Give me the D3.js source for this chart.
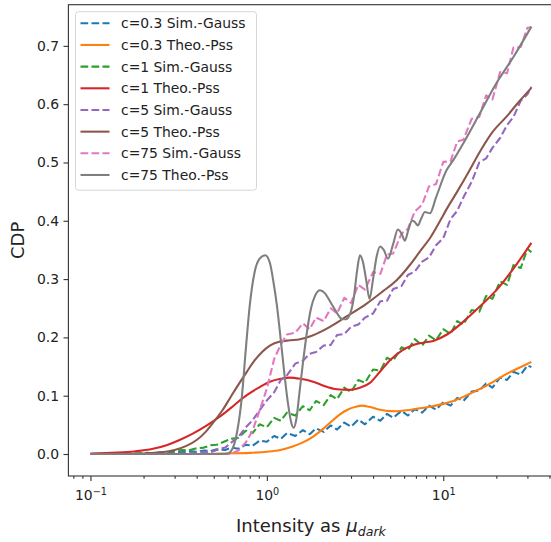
<!doctype html>
<html>
<head>
<meta charset="utf-8">
<style>
body { margin:0; background:#fff; }
svg { display:block; font-family:"DejaVu Sans", sans-serif; }
</style>
<script src="https://cdn.jsdelivr.net/npm/d3@7"></script>
</head>
<body>
<script>

// shared x grid of the simulated curves
var simX = [0.1,0.11,0.12,0.13,0.14,0.16,0.17,0.19,0.21,0.23,0.25,0.28,0.3,0.33,0.36,0.4,0.44,0.48,0.52,0.58,
            0.63,0.69,0.76,0.83,0.91,1.0,1.1,1.2,1.3,1.45,1.6,1.75,1.9,2.1,2.3,2.5,2.75,3.0,3.3,3.6,
            4.0,4.4,4.8,5.2,5.8,6.3,6.9,7.6,8.3,9.1,10,11,12,13,14.5,16,17.5,19,21,23,25,27.5,30,31.6];

var simY03 = [0,0,0,0,0.001, 0,0.001,0.001,0.002,0.001, 0.003,0.002,0.004,0.003,0.005, 0.004,0.006,0.005,0.008,0.007,
              0.011,0.009,0.016,0.014,0.023, 0.021,0.031,0.026,0.036,0.031, 0.041,0.034,0.044,0.038,0.049, 0.042,0.054,0.047,0.059,0.051,
              0.064,0.057,0.069,0.062,0.074, 0.066,0.077,0.071,0.083,0.076, 0.089,0.083,0.096,0.091,0.107, 0.109,0.121,0.114,0.131,0.127,
              0.141,0.136,0.152,0.149];
var simY1 = [0,0,0,0,0, 0.001,0,0.001,0.001,0.002, 0.002,0.004,0.005,0.007,0.006, 0.010,0.011,0.015,0.016,0.022,
             0.026,0.028,0.040,0.036,0.051, 0.046,0.062,0.057,0.071,0.066, 0.082,0.075,0.091,0.084,0.101, 0.094,0.114,0.106,0.127,0.122,
             0.145,0.143,0.165,0.160,0.183, 0.178,0.197,0.186,0.203,0.195, 0.214,0.206,0.228,0.222,0.247, 0.244,0.271,0.266,0.296,0.290,
             0.324,0.319,0.352,0.346];
var simY5 = [0,0,0,0,0, 0,0,0,0,0, 0.001,0,0.001,0.001,0.002, 0.002,0.004,0.003,0.007,0.011,
             0.020,0.029,0.046,0.058,0.075, 0.092,0.106,0.127,0.135,0.155, 0.160,0.172,0.175,0.186,0.187, 0.204,0.206,0.218,0.222,0.234,
             0.241,0.262,0.263,0.283,0.288, 0.307,0.313,0.330,0.337,0.358, 0.370,0.403,0.417,0.440,0.467, 0.500,0.507,0.525,0.542,0.564,
             0.578,0.606,0.617,0.630];
var simY75 = [0,0,0,0,0, 0,0,0,0,0, 0,0,0,0,0, 0,0,0,0,0,
              0.001,0.006,0.020,0.040,0.075, 0.112,0.163,0.188,0.205,0.208, 0.224,0.214,0.234,0.228,0.250, 0.241,0.268,0.259,0.290,0.282,
              0.312,0.309,0.342,0.344,0.378, 0.386,0.416,0.428,0.459,0.463, 0.501,0.502,0.536,0.539,0.575, 0.578,0.615,0.608,0.655,0.653,
              0.697,0.698,0.731,0.732];

// theoretical curves
var theoX03 = [0.1,0.2,0.4,0.6,0.8,1.0,1.19,1.4,1.6,1.83,2.1,2.37,2.6,2.83,3.1,3.45,3.8,4.38,5.0,5.44,6.2,7.2,8.41,10,11.4,13,15,17.5,20,23,27,31.6];
var theoY03 = [0,0,0,0.001,0.002,0.004,0.007,0.013,0.020,0.030,0.044,0.058,0.068,0.075,0.080,0.083,0.081,0.076,0.0735,0.0733,0.075,0.078,0.081,0.086,0.091,0.098,0.107,0.117,0.127,0.138,0.148,0.158];

var theoX1 = [0.1,0.13,0.17,0.22,0.27,0.32,0.38,0.45,0.5,0.58,0.66,0.77,0.9,1.04,1.2,1.35,1.55,1.83,2.1,2.5,2.96,3.4,3.84,4.4,4.99,5.8,6.76,7.7,8.78,10.5,13,16,20,25,31.6];
var theoY1 = [0.001,0.002,0.004,0.008,0.015,0.024,0.035,0.048,0.057,0.071,0.085,0.101,0.114,0.124,0.129,0.131,0.129,0.124,0.117,0.111,0.110,0.114,0.122,0.142,0.161,0.177,0.187,0.191,0.194,0.205,0.227,0.252,0.281,0.318,0.362];

var theoX5 = [0.1,0.15,0.2,0.25,0.3,0.35,0.4,0.45,0.5,0.56,0.63,0.7,0.77,0.85,0.94,1.04,1.19,1.35,1.54,1.8,2.28,2.8,3.68,4.5,5.44,6.5,7.4,8.4,9.6,10.45,12,14,16.1,19,22.9,27,31.6];
var theoY5 = [0,0,0.001,0.003,0.007,0.014,0.024,0.038,0.055,0.075,0.100,0.122,0.141,0.160,0.175,0.186,0.193,0.195,0.197,0.203,0.218,0.235,0.258,0.278,0.298,0.325,0.348,0.370,0.400,0.420,0.450,0.485,0.518,0.552,0.579,0.605,0.628];

var theoX75 = [0.1,0.3,0.55,0.6,0.64,0.68,0.72,0.76,0.8,0.85,0.91,0.98,1.04,1.09,1.14,1.2,1.26,1.32,1.38,1.42,1.47,1.53,1.6,1.68,1.78,1.88,2.0,2.13,2.28,2.45,
               2.65,2.8,2.96,3.1,3.25,3.37,3.5,3.65,3.82,4.0,4.2,4.38,4.6,4.86,5.2,5.53,5.8,6.06,6.35,6.65,6.9,7.18,7.5,7.87,8.41,9.1,10.45,11.4,13,16.1,20,25,31.6];
var theoY75 = [0,0,0,0.001,0.010,0.040,0.095,0.180,0.255,0.310,0.335,0.341,0.328,0.295,0.255,0.195,0.135,0.085,0.052,0.045,0.060,0.105,0.155,0.205,0.250,0.272,0.281,0.276,0.262,0.246,
               0.232,0.231,0.240,0.265,0.315,0.341,0.330,0.300,0.266,0.300,0.340,0.356,0.350,0.335,0.360,0.385,0.378,0.366,0.385,0.400,0.398,0.392,0.404,0.415,0.413,0.440,0.487,0.504,0.533,0.584,0.636,0.681,0.733];

var labels = ["c=0.3 Sim.-Gauss","c=0.3 Theo.-Pss","c=1 Sim.-Gauss","c=1 Theo.-Pss",
              "c=5 Sim.-Gauss","c=5 Theo.-Pss","c=75 Sim.-Gauss","c=75 Theo.-Pss"];
var colors = ["#1f77b4","#ff7f0e","#2ca02c","#d62728","#9467bd","#8c564b","#e377c2","#7f7f7f"];
var yTicks = [0,0.1,0.2,0.3,0.4,0.5,0.6,0.7];
var xTicks = [0.1,1,10];
var xTickExp = ["\u22121","0","1"];

var series = [
  {x: simX, y: simY03, dash: true},
  {x: theoX03, y: theoY03, dash: false},
  {x: simX, y: simY1, dash: true},
  {x: theoX1, y: theoY1, dash: false},
  {x: simX, y: simY5, dash: true},
  {x: theoX5, y: theoY5, dash: false},
  {x: simX, y: simY75, dash: true},
  {x: theoX75, y: theoY75, dash: false}
];

var W = 551, H = 542;
var axL = 68.4, axR = 553.5, axT = 4.7, axB = 476;

var svg = d3.select("body").append("svg")
  .attr("width", W).attr("height", H);

var x = d3.scaleLog().domain([Math.pow(10,-1.125), Math.pow(10,1.625)]).range([axL, axR]);
var y = d3.scaleLinear().domain([-0.0377, 0.7706]).range([axB, axT]);

svg.append("clipPath").attr("id","clip")
  .append("rect").attr("x", axL).attr("y", axT).attr("width", axR-axL).attr("height", axB-axT);

var plot = svg.append("g").attr("clip-path","url(#clip)");

var smooth = d3.line().x(function(d){ return x(d[0]); }).y(function(d){ return y(d[1]); }).curve(d3.curveMonotoneX);
var rough = d3.line().x(function(d){ return x(d[0]); }).y(function(d){ return y(d[1]); });

series.forEach(function(s, i) {
  var pts = d3.zip(s.x, s.y);
  plot.append("path")
    .attr("d", s.dash ? rough(pts) : smooth(pts))
    .attr("fill","none")
    .attr("stroke", colors[i])
    .attr("stroke-width", 2.08)
    .attr("stroke-dasharray", s.dash ? "7.7,3.3" : null)
    .attr("stroke-linejoin","round");
});

// axes
var yAxis = svg.append("g").attr("transform","translate(" + axL + ",0)")
  .call(d3.axisLeft(y).tickValues(yTicks).tickFormat(d3.format(".1f")).tickSize(4.9).tickPadding(4.5));
var xAxis = svg.append("g").attr("transform","translate(0," + axB + ")")
  .call(d3.axisBottom(x).tickValues(xTicks).tickSize(4.9).tickPadding(6).tickFormat(function(){ return ""; }));
var minor = [0.08,0.09,0.2,0.3,0.4,0.5,0.6,0.7,0.8,0.9,2,3,4,5,6,7,8,9,20,30,40];
svg.append("g").attr("transform","translate(0," + axB + ")")
  .call(d3.axisBottom(x).tickValues(minor).tickSize(2.8).tickFormat(function(){ return ""; }))
  .call(function(g){ g.select(".domain").remove(); });

[yAxis, xAxis].forEach(function(g){
  g.selectAll("text").attr("font-size", 13.9).attr("font-family","DejaVu Sans").attr("fill","#222");
  g.select(".domain").remove();
});
svg.selectAll(".tick line").attr("stroke","#333").attr("stroke-width",1.1);

xAxis.selectAll(".tick text").each(function(d, i) {
  var t = d3.select(this);
  t.text("10").attr("dy", null).attr("y", 24);
  t.append("tspan").attr("font-size", 9.7).attr("dy", -5.5).text(xTickExp[i]);
});

// spines
svg.append("rect")
  .attr("x", axL).attr("y", axT).attr("width", axR-axL).attr("height", axB-axT)
  .attr("fill","none").attr("stroke","#333").attr("stroke-width",1.1);

// axis labels
var xl = svg.append("text").attr("x", (axL+axR)/2).attr("y", 532)
  .attr("text-anchor","middle").attr("font-size", 18).attr("fill","#222");
xl.append("tspan").text("Intensity as ");
xl.append("tspan").attr("font-style","italic").text("\u03bc");
xl.append("tspan").attr("font-style","italic").attr("font-size", 12.6).attr("dy", 3.5).text("dark");

svg.append("text").attr("transform","translate(24," + ((axT+axB)/2) + ") rotate(-90)")
  .attr("text-anchor","middle").attr("font-size", 18).attr("fill","#222").text("CDP");

// legend
var lg = svg.append("g");
lg.append("rect").attr("x", 75.5).attr("y", 11.7).attr("width", 181).attr("height", 178.5)
  .attr("rx", 3).attr("fill","#fff").attr("fill-opacity",0.8).attr("stroke","#d6d6d6").attr("stroke-width",1);
labels.forEach(function(lab, i) {
  var ry = 23.3 + i * 21.67;
  lg.append("line").attr("x1", 80.5).attr("x2", 109.5).attr("y1", ry).attr("y2", ry)
    .attr("stroke", colors[i]).attr("stroke-width", 2.08)
    .attr("stroke-dasharray", series[i].dash ? "7.7,3.3" : null);
  lg.append("text").attr("x", 121).attr("y", ry + 5).attr("font-size", 13.9).attr("fill","#222").text(lab);
});

</script>
</body>
</html>
